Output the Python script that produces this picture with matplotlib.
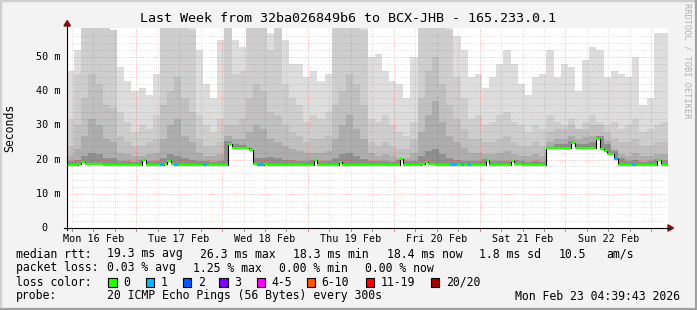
import numpy as np
import pandas as pd
import matplotlib
matplotlib.use("Agg")
import matplotlib.pyplot as plt
import matplotlib.transforms as mtransforms
from matplotlib.patches import Rectangle, Polygon
from matplotlib.lines import Line2D

plt.rcParams['font.family'] = ['DejaVu Sans Mono']

#%% DATA
end_time = pd.Timestamp("2026-02-23 04:39:43")
start_time = end_time - pd.Timedelta(days=7)

# median rtt per hour (ms)
median_ms = [
    18.4, 18.4, 18.5, 18.6, 19.2, 18.7, 18.7, 18.6, 18.6, 18.6, 18.5, 18.3,
    18.3, 18.3, 18.3, 18.3, 18.3, 18.3, 18.3, 18.3, 18.3, 19.9, 18.4, 18.4,
    18.4, 18.4, 18.5, 18.6, 19.5, 18.6, 18.4, 18.4, 18.4, 18.4, 18.4, 18.3,
    18.3, 18.3, 18.4, 18.3, 18.4, 18.3, 18.3, 18.3, 18.3, 24.6, 23.4, 23.4,
    23.4, 23.4, 23.4, 22.8, 18.6, 18.5, 18.5, 18.6, 18.5, 18.5, 18.4, 18.4,
    18.3, 18.3, 18.3, 18.3, 18.3, 18.3, 18.3, 18.3, 18.3, 19.9, 18.4, 18.3,
    18.3, 18.3, 18.4, 18.4, 19.3, 18.5, 18.5, 18.5, 18.5, 18.4, 18.3, 18.3,
    18.3, 18.3, 18.3, 18.3, 18.3, 18.3, 18.3, 18.3, 18.3, 20.1, 18.3, 18.3,
    18.3, 18.3, 18.4, 18.6, 19.4, 18.7, 18.6, 18.5, 18.5, 18.5, 18.5, 18.4,
    18.4, 18.5, 18.4, 18.5, 18.3, 18.4, 18.3, 18.3, 18.3, 20.0, 18.4, 18.4,
    18.4, 18.4, 18.4, 18.4, 19.5, 18.6, 18.6, 18.5, 18.5, 18.5, 18.5, 18.5,
    18.4, 18.4, 23.4, 23.4, 23.4, 23.4, 23.4, 23.4, 23.4, 24.8, 23.4, 23.4,
    23.4, 23.4, 23.4, 23.4, 26.0, 23.2, 22.6, 21.6, 21.6, 20.2, 18.3, 18.3,
    18.3, 18.3, 18.4, 18.3, 18.3, 18.3, 18.3, 18.3, 18.3, 19.8, 18.4, 18.4,
]

# hours with lost pings (out of 20) -> loss bucket
loss_hours = [26, 30, 38, 53, 54, 107, 108, 110, 112, 153, 158]
loss_pings = [1, 1, 1, 1, 1, 1, 1, 1, 1, 1, 1]

# smoke, 2 hour bins (ms): outer band first, inner bands after
smoke_max = [
    46, 52, 60, 60, 60, 60, 56, 47, 43, 40, 41, 39,
    45, 60, 55, 60, 60, 60, 52, 42, 38, 55, 60, 55,
    53, 60, 60, 60, 57, 60, 55, 48, 48, 44, 46, 43,
    45, 60, 60, 60, 60, 60, 50, 51, 46, 43, 42, 38,
    50, 60, 60, 60, 60, 60, 56, 52, 44, 45, 41, 44,
    48, 52, 48, 42, 39, 44, 45, 52, 44, 48, 47, 40,
    49, 53, 52, 44, 46, 45, 44, 50, 36, 38, 57, 57,
]
smoke_p2 = [
    32, 45, 60, 60, 60, 60, 58, 34, 31, 28, 30, 29,
    33, 60, 60, 60, 60, 58, 33, 30, 28, 32, 60, 45,
    46, 60, 60, 60, 52, 60, 42, 38, 36, 31, 33, 32,
    34, 60, 60, 60, 60, 58, 32, 31, 33, 30, 28, 27,
    31, 60, 60, 60, 60, 58, 44, 38, 32, 33, 30, 31,
    33, 34, 31, 30, 28, 30, 29, 33, 31, 30, 32, 29,
    31, 33, 31, 30, 31, 29, 30, 32, 28, 29, 30, 31,
]
smoke_p3 = [
    24, 30, 38, 45, 42, 36, 35, 27, 25, 24, 24, 25,
    26, 36, 40, 44, 38, 34, 26, 24, 24, 25, 30, 30,
    32, 38, 42, 40, 34, 33, 30, 28, 27, 25, 26, 26,
    27, 36, 40, 45, 42, 36, 25, 24, 25, 24, 23, 23,
    26, 38, 46, 50, 42, 36, 32, 29, 26, 26, 25, 25,
    26, 27, 25, 24, 24, 25, 24, 28, 29, 29, 30, 29,
    29, 30, 30, 28, 26, 25, 25, 26, 24, 24, 25, 25,
]
smoke_p4 = [
    21, 23, 27, 32, 30, 26, 25, 22, 21.5, 21, 21, 21.5,
    22, 26, 30, 32, 27, 25, 22, 21, 21, 21.5, 27, 26,
    26, 28, 30, 29, 26, 25, 24, 23, 22.5, 22, 22, 22,
    22.5, 26, 30, 33, 29, 26, 22, 21, 21.5, 21, 20.5, 20.5,
    22, 28, 33, 37, 31, 27, 25, 23.5, 22, 22, 21.5, 21.5,
    22, 22.5, 21.5, 21, 21, 21.5, 21, 25, 26, 26, 27, 26,
    26.5, 27, 27, 25.5, 23, 21.5, 21, 22, 21, 21, 21.5, 21.5,
]
smoke_p5 = [
    19.5, 20, 21, 22, 21.5, 20.5, 20.5, 19.6, 19.5, 19.4, 19.8, 19.5,
    19.6, 20.5, 21.5, 21, 20.5, 20, 19.6, 19.5, 19.4, 19.5, 25.5, 24.5,
    24.3, 23.5, 20.5, 20.5, 20.8, 20.5, 20, 19.8, 19.6, 19.5, 20, 19.6,
    19.7, 20.5, 21.5, 22, 21, 20.3, 19.6, 19.5, 19.5, 19.4, 19.8, 19.5,
    19.6, 21, 22.5, 23, 21.5, 20.5, 20, 19.7, 19.5, 19.5, 20.3, 19.6,
    19.5, 19.6, 20, 19.5, 19.4, 19.5, 19.4, 22, 24.5, 24.5, 25.5, 24.5,
    24.5, 25, 26.8, 24.5, 22.5, 20.5, 19.5, 19.8, 19.4, 19.5, 20.3, 19.8,
]
smoke_colors = ['#dddddd', '#cecece', '#c0c0c0', '#adadad', '#8f8f8f']

loss_labels = ['0', '1', '2', '3', '4-5', '6-10', '11-19', '20/20']
loss_colors = ['#26ff00', '#00b8ff', '#0059ff', '#7e00ff', '#ff00ff',
               '#ff5500', '#ff0000', '#a10000']

title = "Last Week from 32ba026849b6 to BCX-JHB - 165.233.0.1"
rtt_stats = ["19.3 ms avg", "26.3 ms max", "18.3 ms min", "18.4 ms now",
             "1.8 ms sd", "10.5", "am/s"]
loss_stats = ["0.03 % avg", "1.25 % max", "0.00 % min", "0.00 % now"]
probe_text = "20 ICMP Echo Pings (56 Bytes) every 300s"
stamp = end_time.strftime("%a %b %d %H:%M:%S %Y")

#%% PLOT PREP
W, H = 697, 310
def fx(x):
    return x / W
def fy(y):
    return 1 - y / H

hours = np.arange(len(median_ms) + 1)
med = np.array(median_ms)
def ext(a):
    return np.append(a, a[-1])

def to_hours(ts):
    return (ts - start_time) / pd.Timedelta(hours=1)

noons = pd.date_range("2026-02-16 12:00", periods=7, freq="D")
six_hours = pd.date_range("2026-02-16 06:00", end_time, freq="6h")

minor_c = (0.3, 0.0, 0.0, 0.16)
major_c = (1.0, 0.0, 0.0, 0.33)
dots = (0.72, 1.44)

#%% PLOT
fig = plt.figure(figsize=(W / 100, H / 100), dpi=100)
fig.patch.set_facecolor('#f3f3f3')

ax = fig.add_axes([fx(67), fy(228), 601 / W, 200.5 / H])
ax.set_facecolor('white')

for vals, col in zip([smoke_max, smoke_p2, smoke_p3, smoke_p4, smoke_p5], smoke_colors):
    top = np.maximum(np.repeat(np.array(vals, dtype=float), 2), med)
    ax.fill_between(hours, ext(med), ext(top), step='post', color=col, lw=0, zorder=1)

for v in np.arange(2, 58, 2):
    c = major_c if v % 10 == 0 else minor_c
    ax.axhline(v, color=c, lw=0.72, dashes=dots, zorder=2)
xtick_tr = mtransforms.blended_transform_factory(ax.transData, fig.transFigure)
for t in six_hours:
    c = major_c if t.hour == 0 else minor_c
    ax.axvline(to_hours(t), color=c, lw=0.72, dashes=dots, zorder=2)
    tc = '#e08080' if t.hour == 0 else '#909090'
    fig.add_artist(Line2D([to_hours(t)] * 2, [fy(228), fy(231)], color=tc, lw=0.7,
                          transform=xtick_tr))

ax.step(hours, ext(med), where='post', color='black', lw=0.8, zorder=3)
seg_colors = [loss_colors[0]] * len(med)
for h, n in zip(loss_hours, loss_pings):
    seg_colors[h] = loss_colors[n]
ax.hlines(med, hours[:-1], hours[1:], colors=seg_colors, lw=1.6, zorder=4)

ax.set_xlim(0, len(median_ms))
ax.set_ylim(0, 58.6)
for s in ax.spines.values():
    s.set_visible(False)

ax.set_xticks(to_hours(noons))
ax.set_xticklabels(noons.strftime("%a %d %b"), fontsize=7.3)
ax.tick_params(axis='x', length=0, pad=4)
ax.set_yticks([])

# y labels
trans = mtransforms.blended_transform_factory(fig.transFigure, ax.transData)
for v in range(0, 60, 10):
    lab = f"{v} m" if v else "0"
    xr = 60 if v else 47.5
    fig.text(fx(xr), v, lab, transform=trans, ha='right', va='center', fontsize=7.3)

# axes lines and arrows
fig.add_artist(Line2D([fx(67), fx(67)], [fy(230), fy(24)], color='black', lw=0.8))
fig.add_artist(Line2D([fx(64), fx(670)], [fy(228), fy(228)], color='black', lw=0.8))
fig.add_artist(Polygon([[fx(64), fy(26)], [fx(70.5), fy(26)], [fx(67.2), fy(20.5)]],
                       closed=True, color='#8b1010', transform=fig.transFigure))
fig.add_artist(Polygon([[fx(668), fy(224.8)], [fx(668), fy(231.2)], [fx(673.5), fy(228)]],
                       closed=True, color='#8b1010', transform=fig.transFigure))

# frame
fig.add_artist(Line2D([0, 0, 1], [0, 1, 1], color='#d0d0d0', lw=2.5))
fig.add_artist(Line2D([0, 1, 1], [0, 0, 1], color='#a0a0a0', lw=3))

fig.text(fx(348), fy(19), title, ha='center', va='center', fontsize=9.6)
fig.text(fx(10), fy(127.5), "Seconds", rotation=90, ha='center', va='center', fontsize=8.3)
fig.text(fx(687), fy(3), "RRDTOOL / TOBI OETIKER", rotation=270, ha='center', va='top',
         fontsize=6.2, color='#b0b0b0')

fs = 8.3
fig.text(fx(16), fy(254), "median rtt:", va='center', fontsize=fs)
for s, x in zip(rtt_stats, [107.3, 200.5, 293.3, 386.5, 479.3, 558.3, 606.7]):
    fig.text(fx(x), fy(254), s, va='center', fontsize=fs)
fig.text(fx(16), fy(268), "packet loss:", va='center', fontsize=fs)
for s, x in zip(loss_stats, [107.3, 193.3, 279.3, 365]):
    fig.text(fx(x), fy(268), s, va='center', fontsize=fs)
fig.text(fx(16), fy(282), "loss color:", va='center', fontsize=fs)
for lab, col, x in zip(loss_labels, loss_colors,
                       [108.3, 145.7, 182.7, 219.3, 256.7, 306.7, 366, 430.7]):
    fig.add_artist(Rectangle((fx(x), fy(286.5)), 8.4 / W, 8.5 / H, facecolor=col,
                             edgecolor='black', lw=0.8, transform=fig.transFigure))
    fig.text(fx(x + 15), fy(282), lab, va='center', fontsize=fs)
fig.text(fx(16), fy(296), "probe:", va='center', fontsize=fs)
fig.text(fx(107.3), fy(296), probe_text, va='center', fontsize=fs)
fig.text(fx(680), fy(296), stamp, ha='right', va='center', fontsize=fs)

fig.savefig("out.png", dpi=100, facecolor=fig.get_facecolor())
